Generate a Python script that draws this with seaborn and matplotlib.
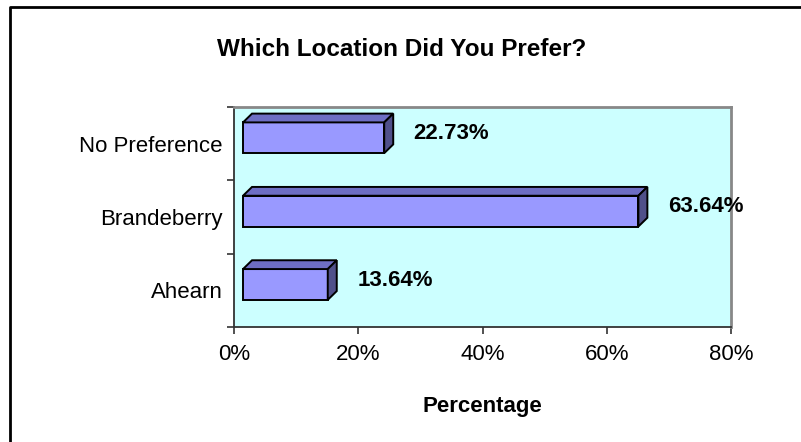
import numpy as np
import pandas as pd
import matplotlib
matplotlib.use("Agg")
import matplotlib.pyplot as plt
from matplotlib.patches import Polygon
from matplotlib.lines import Line2D
from matplotlib.ticker import FixedLocator, FuncFormatter
import seaborn as sns

# data
locations = ["No Preference", "Brandeberry", "Ahearn"]
percent = [22.73, 63.64, 13.64]
x_ticks = [0, 20, 40, 60, 80]

sns.set_style("white")
plt.rcParams['font.family'] = ['Liberation Sans', 'DejaVu Sans']
plt.rcParams['text.color'] = 'black'
plt.rcParams['xtick.color'] = 'black'
plt.rcParams['ytick.color'] = 'black'
plt.rcParams['axes.labelcolor'] = 'black'

front_col = "#9999FF"
top_col = "#6E6EC4"
side_col = "#50508A"

df = pd.DataFrame({"Location": locations, "Percent": percent})

fig = plt.figure(figsize=(8.01, 4.42), dpi=100)
ax = fig.add_axes([234 / 801, 1 - 327 / 442, 497 / 801, 220 / 442])
ax.set_facecolor("#CCFFFF")

sns.barplot(data=df, x="Percent", y="Location", order=locations,
            color=front_col, saturation=1, width=0.42,
            edgecolor="black", linewidth=1.4, ax=ax)
ax.set_xlim(0, 80)
ax.set_ylim(2.5, -0.5)

# fake 3d depth like the old excel charts
dx = 1.45
dy = 0.12
shift = -0.08
for p, v in zip(ax.patches, percent):
    p.set_x(p.get_x() + dx)
    p.set_y(p.get_y() + shift)
    x0 = p.get_x()
    x1 = x0 + p.get_width()
    y_top = p.get_y()
    y_bot = y_top + p.get_height()
    top = Polygon([(x0, y_top), (x0 + dx, y_top - dy), (x1 + dx, y_top - dy), (x1, y_top)],
                  closed=True, facecolor=top_col, edgecolor="black", lw=1.4, zorder=p.get_zorder())
    side = Polygon([(x1, y_top), (x1 + dx, y_top - dy), (x1 + dx, y_bot - dy), (x1, y_bot)],
                   closed=True, facecolor=side_col, edgecolor="black", lw=1.4, zorder=p.get_zorder())
    ax.add_patch(top)
    ax.add_patch(side)
    yc = (y_top - dy + y_bot) / 2
    ax.text(x1 + dx + 3.3, yc, f"{v:.2f}%", ha="left", va="center",
            fontsize=16, fontweight="bold", color="black", clip_on=False)

# axes styling
for s in ["left", "bottom"]:
    ax.spines[s].set_color("#333333")
    ax.spines[s].set_linewidth(1.3)
for s in ["top", "right"]:
    ax.spines[s].set_color("#888888")
    ax.spines[s].set_linewidth(2)

ax.xaxis.set_major_locator(FixedLocator(x_ticks))
ax.xaxis.set_major_formatter(FuncFormatter(lambda v, pos: f"{v:.0f}%"))
ax.tick_params(axis="x", which="major", direction="out", length=5, width=1.2,
               color="#333333", labelsize=16, pad=7, bottom=True)
ax.yaxis.set_minor_locator(FixedLocator([-0.5, 0.5, 1.5, 2.5]))
ax.tick_params(axis="y", which="minor", direction="out", length=5, width=1.2,
               color="#333333", left=True)
ax.tick_params(axis="y", which="major", length=0, labelsize=16, pad=8)

ax.set_ylabel("")
ax.set_xlabel("Percentage", fontsize=16, fontweight="bold")
ax.xaxis.set_label_coords(0.5, -0.3636)
ax.xaxis.label.set_va("center")

fig.text(402 / 801, 1 - 50 / 442, "Which Location Did You Prefer?",
         ha="center", va="center", fontsize=17.5, fontweight="bold")

# chart frame (only top and left visible)
fig.add_artist(Line2D([9.5 / 801, 9.5 / 801, 1], [0, 1 - 6.5 / 442, 1 - 6.5 / 442],
                      transform=fig.transFigure, color="black", lw=2))

fig.savefig("out.png", dpi=100)
